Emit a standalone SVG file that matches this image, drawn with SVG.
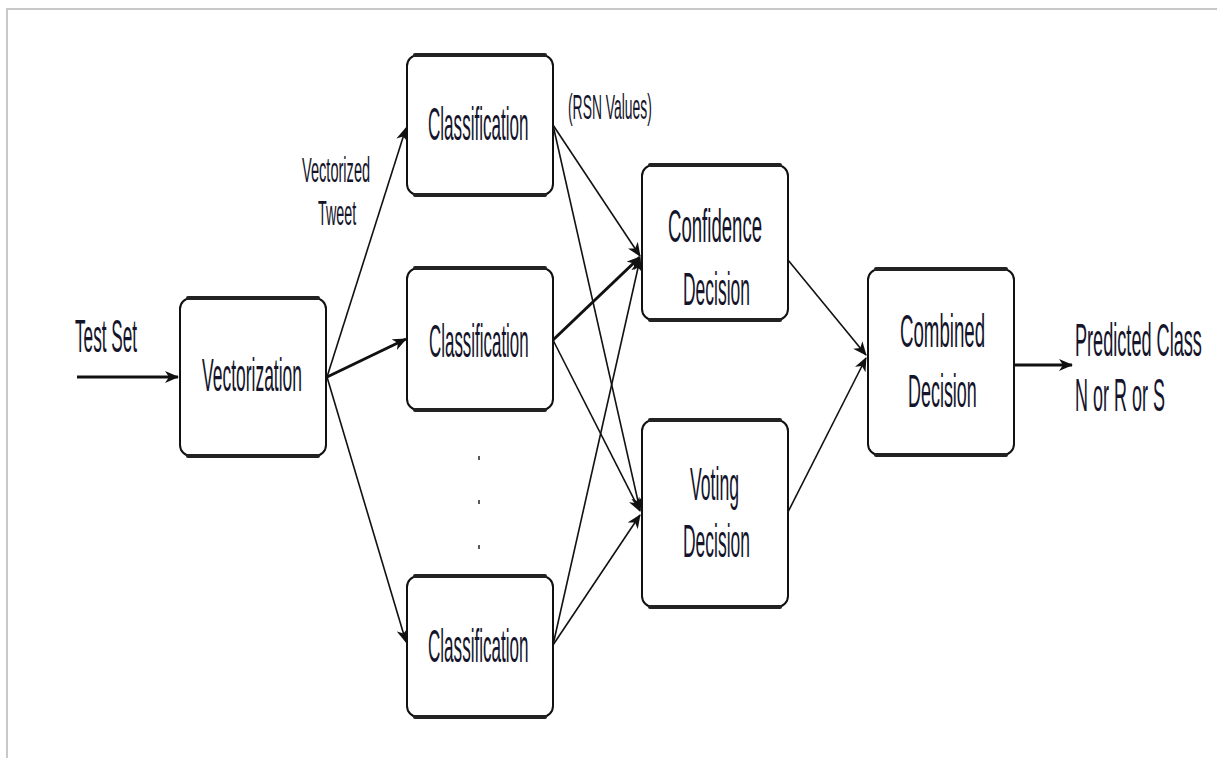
<svg xmlns="http://www.w3.org/2000/svg" width="1225" height="758" viewBox="0 0 1225 758">
<style>
.frame{fill:none;stroke:#c8c8c8;stroke-width:2}
.box{fill:#fff;stroke:#111;stroke-width:2}
.bar{stroke:#222;stroke-width:4;stroke-linecap:round}
.t{font-family:"Liberation Sans",Arial,sans-serif;font-size:46px;fill:#14142a}
.s{font-family:"Liberation Sans",Arial,sans-serif;font-size:35px;fill:#14142a}
.c{fill:none;stroke:#111;stroke-width:1.6}
.k{fill:none;stroke:#111;stroke-width:3}
</style>
<defs>
<marker id="ah" markerUnits="userSpaceOnUse" markerWidth="14" markerHeight="12" refX="13" refY="6" orient="auto">
<path d="M0,0 L14,6 L0,12 L4,6 Z" fill="#111"/>
</marker>
</defs>
<rect width="1225" height="758" fill="#fff"/>
<path class="frame" d="M7,758 V9 H1217"/>

<g id="connectors">
<line class="k" x1="77" y1="377" x2="178" y2="377" marker-end="url(#ah)"/>
<line class="c" x1="327" y1="377" x2="406" y2="128" marker-end="url(#ah)"/>
<line class="k" x1="327" y1="377" x2="406" y2="339" marker-end="url(#ah)"/>
<line class="c" x1="327" y1="377" x2="406" y2="642" marker-end="url(#ah)"/>
<line class="c" x1="553" y1="125" x2="640" y2="256" marker-end="url(#ah)"/>
<line class="c" x1="553" y1="125" x2="640" y2="510" marker-end="url(#ah)"/>
<line class="k" x1="553" y1="340" x2="640" y2="257" marker-end="url(#ah)"/>
<line class="c" x1="553" y1="340" x2="640" y2="511" marker-end="url(#ah)"/>
<line class="c" x1="553" y1="645" x2="640" y2="259" marker-end="url(#ah)"/>
<line class="c" x1="553" y1="645" x2="640" y2="515" marker-end="url(#ah)"/>
<line class="c" x1="788" y1="260" x2="866" y2="355" marker-end="url(#ah)"/>
<line class="c" x1="788" y1="512" x2="866" y2="358" marker-end="url(#ah)"/>
<line class="k" x1="1014" y1="365" x2="1072" y2="365" marker-end="url(#ah)"/>
</g>

<g id="vectorization">
<rect class="box" x="180" y="298" width="146" height="158" rx="11"/>
<line class="bar" x1="188" y1="298" x2="318" y2="298"/>
<line class="bar" x1="188" y1="456" x2="318" y2="456"/>
<text class="t" transform="translate(202,391) scale(0.38,1)">Vectorization</text>
</g>

<g id="classification1">
<rect class="box" x="407" y="55" width="146" height="140" rx="11"/>
<line class="bar" x1="415" y1="55" x2="545" y2="55"/>
<line class="bar" x1="415" y1="195" x2="545" y2="195"/>
<text class="t" transform="translate(428,140) scale(0.371,1)">Classification</text>
</g>

<g id="classification2">
<rect class="box" x="407" y="268" width="146" height="142" rx="11"/>
<line class="bar" x1="415" y1="268" x2="545" y2="268"/>
<line class="bar" x1="415" y1="410" x2="545" y2="410"/>
<text class="t" transform="translate(429,357) scale(0.368,1)">Classification</text>
</g>

<g id="classification3">
<rect class="box" x="407" y="576" width="146" height="141" rx="11"/>
<line class="bar" x1="415" y1="576" x2="545" y2="576"/>
<line class="bar" x1="415" y1="717" x2="545" y2="717"/>
<text class="t" transform="translate(428,662) scale(0.371,1)">Classification</text>
</g>

<g id="dots" stroke="#222" stroke-width="1.5">
<line x1="479" y1="456" x2="479" y2="460"/>
<line x1="479" y1="500" x2="479" y2="504"/>
<line x1="479" y1="545" x2="479" y2="549"/>
</g>

<g id="confidence">
<rect class="box" x="642" y="165" width="146" height="155" rx="11"/>
<line class="bar" x1="650" y1="165" x2="780" y2="165"/>
<line class="bar" x1="650" y1="320" x2="780" y2="320"/>
<text class="t" transform="translate(668,242) scale(0.404,1)">Confidence</text>
<text class="t" transform="translate(683,305) scale(0.38,1)">Decision</text>
</g>

<g id="voting">
<rect class="box" x="642" y="420" width="146" height="187" rx="11"/>
<line class="bar" x1="650" y1="420" x2="780" y2="420"/>
<line class="bar" x1="650" y1="607" x2="780" y2="607"/>
<text class="t" transform="translate(690,500) scale(0.383,1)">Voting</text>
<text class="t" transform="translate(683,557) scale(0.38,1)">Decision</text>
</g>

<g id="combined">
<rect class="box" x="868" y="269" width="146" height="186" rx="11"/>
<line class="bar" x1="876" y1="269" x2="1006" y2="269"/>
<line class="bar" x1="876" y1="455" x2="1006" y2="455"/>
<text class="t" transform="translate(900,347) scale(0.406,1)">Combined</text>
<text class="t" transform="translate(908,407) scale(0.39,1)">Decision</text>
</g>

<g id="labels">
<text class="t" transform="translate(75,352) scale(0.374,1)">Test Set</text>
<text class="s" transform="translate(302,182) scale(0.417,1)">Vectorized</text>
<text class="s" transform="translate(318,225) scale(0.409,1)">Tweet</text>
<text class="s" transform="translate(568,119) scale(0.397,1)">(RSN Values)</text>
<text class="t" transform="translate(1075,356) scale(0.394,1)">Predicted Class</text>
<text class="t" transform="translate(1075,411) scale(0.391,1)">N or R or S</text>
</g>
</svg>
